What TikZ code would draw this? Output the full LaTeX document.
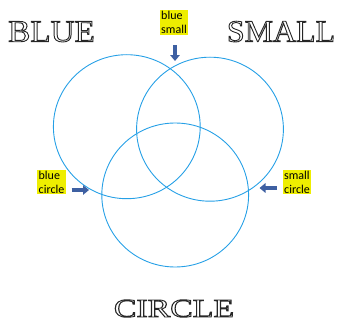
\documentclass[tikz,border=0pt]{standalone}
\usepackage{fontspec}
\setmainfont{Carlito}
\newfontfamily\capsfont{Liberation Serif}
\usetikzlibrary{arrows.meta,positioning}
\definecolor{ringblue}{RGB}{38,160,230}
\definecolor{pointblue}{RGB}{62,96,162}
\definecolor{tagyellow}{RGB}{238,238,0}
% outlined capitals (stroke only text)
\newcommand{\hollow}[1]{\special{pdf:literal direct 1 Tr 0.9 w}#1\special{pdf:literal direct 0 Tr}}

\begin{document}
\begin{tikzpicture}[x=1pt, y=-1pt,
  ring/.style={draw=ringblue, line width=0.9pt},
  tag/.style={fill=tagyellow, inner sep=1.2pt, align=left, font=\fontsize{12}{14}\selectfont},
  pointer/.style={draw=pointblue, line width=4.5pt, -{Triangle[width=9.5pt,length=6pt]}},
  setname/.style={anchor=base, inner sep=0pt, text=black!85}]
\useasboundingbox (0,0) rectangle (341,324);

% ---- the three sets ------------------------------------------------------
\coordinate (cblue)   at (126.8,126.7);
\coordinate (csmall)  at (210.0,129.2);
\coordinate (ccircle) at (175.2,195.0);
\foreach \c in {cblue,csmall,ccircle}
  \draw[ring] (\c) circle [x radius=73.4, y radius=72];

% ---- set names -----------------------------------------------------------
\node[setname] (nblue)   at (51.5,41.7)
  {\scalebox{1.07}[1]{\fontsize{31}{31}\capsfont\hollow{BLUE}}};
\node[setname] (nsmall)  at (281,41.7)
  {\scalebox{1.03}[1]{\fontsize{31}{31}\capsfont\hollow{SMALL}}};
\node[setname] (ncircle) at (174,317)
  {\scalebox{1.3}[1]{\fontsize{26}{26}\capsfont\hollow{CIRCLE}}};

% ---- overlap tags --------------------------------------------------------
\node[tag] (tbs) at (174,22.5) {blue\\small};
\node[tag] (tbc) at (51.5,182) {blue\\circle};
\node[tag] (tsc) at (297,182)  {small\\circle};

\coordinate (tbs-from) at (175,45);  \coordinate (tbs-to) at (175,61);
\coordinate (tbc-from) at (71.5,190); \coordinate (tbc-to) at (89,190);
\coordinate (tsc-from) at (277,188); \coordinate (tsc-to) at (259.5,188);
\foreach \t in {tbs,tbc,tsc}
  \draw[pointer] (\t-from) -- (\t-to);
\end{tikzpicture}
\end{document}
